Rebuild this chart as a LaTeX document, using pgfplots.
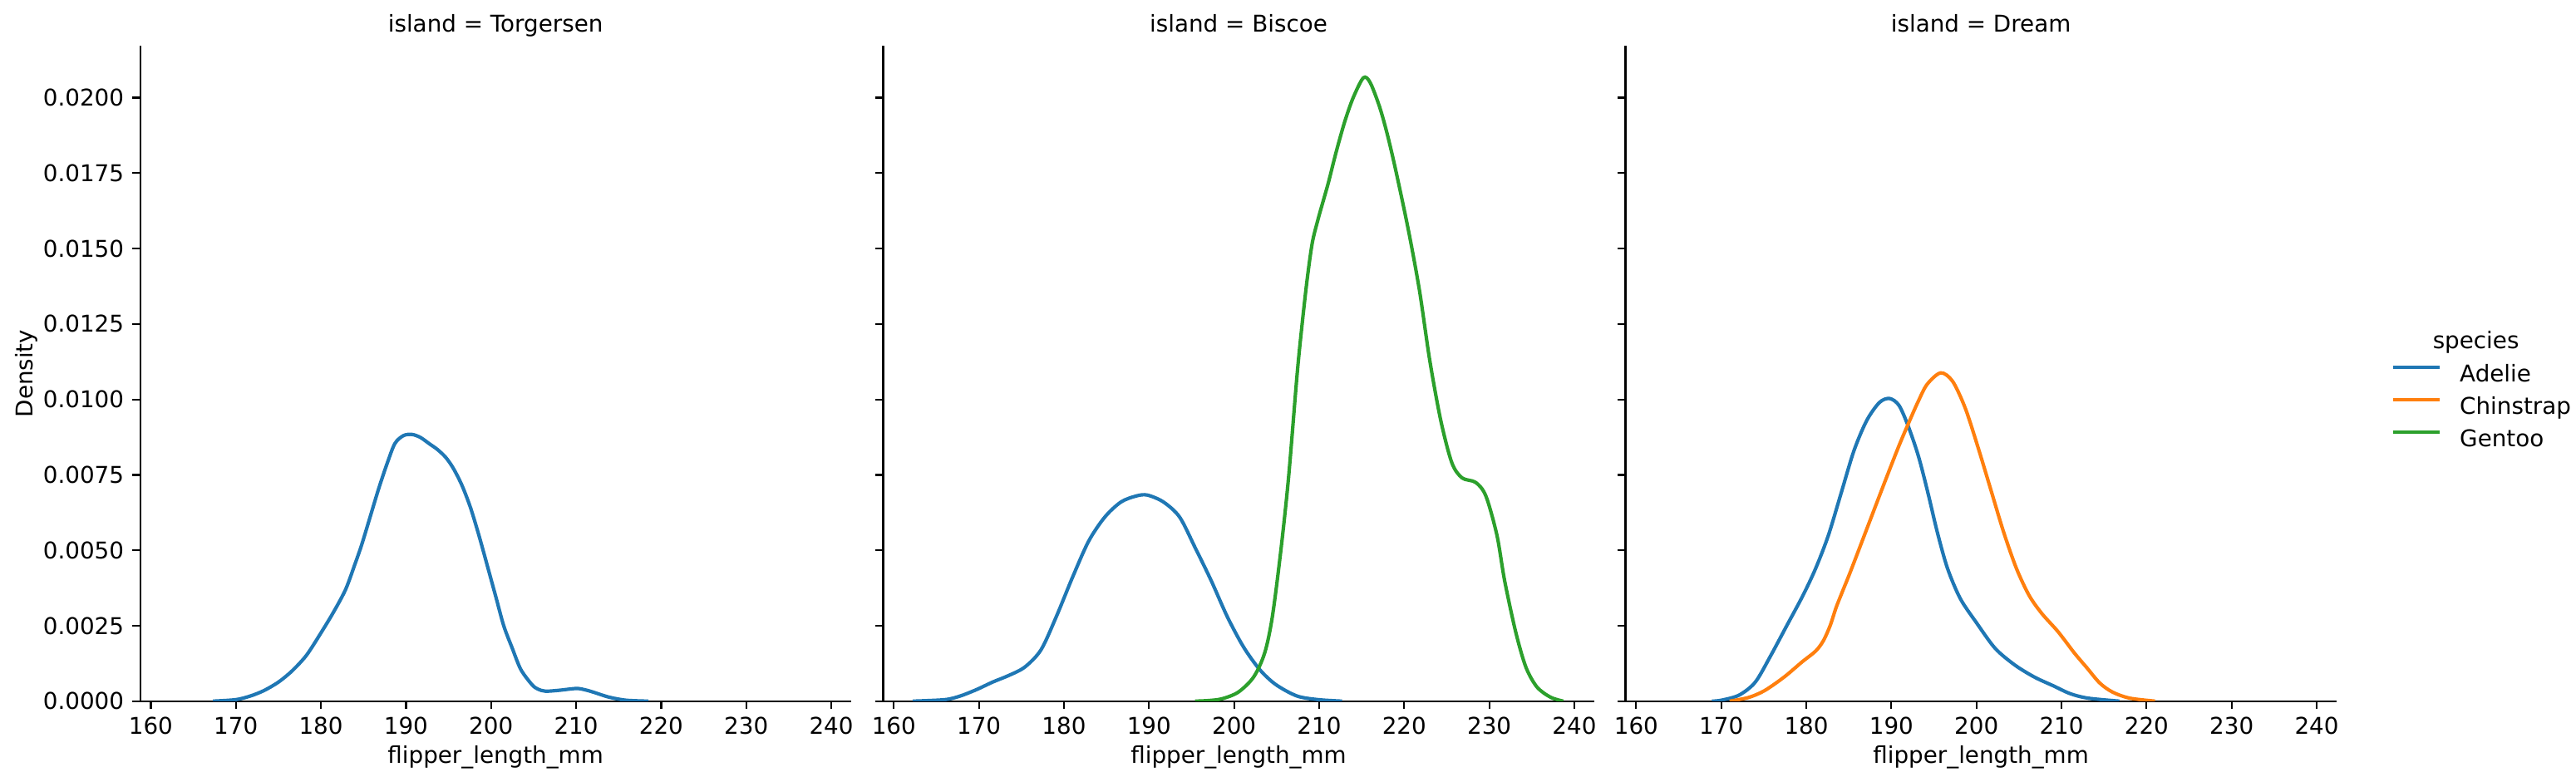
\documentclass[border=0pt]{standalone}
\usepackage{fontspec}
\setmainfont{DejaVu Sans}
\usepackage{pgfplots}
\usepackage{pgfplotstable}
\pgfplotsset{compat=1.18}

\definecolor{tabblue}{HTML}{1F77B4}
\definecolor{taborange}{HTML}{FF7F0E}
\definecolor{tabgreen}{HTML}{2CA02C}
\newcommand\tenbp{\fontsize{10bp}{12bp}\selectfont}

% KDE curves (flipper_length_mm, density)
\pgfplotstableread{
x y
167.3 0
170.0 0.00005
171.7 0.00017
173.3 0.00035
175.0 0.00063
176.6 0.00100
178.3 0.00152
180.0 0.00226
181.5 0.00296
182.9 0.00370
184.0 0.00454
184.8 0.00519
185.8 0.00612
186.8 0.00705
187.8 0.00789
188.7 0.00854
189.7 0.00880
190.7 0.00884
191.7 0.00874
192.7 0.00854
193.7 0.00834
194.7 0.00807
195.6 0.00770
196.6 0.00714
197.6 0.00640
198.6 0.00547
199.6 0.00445
200.6 0.00342
201.5 0.00249
202.5 0.00175
203.5 0.00105
204.8 0.00055
205.5 0.00040
206.4 0.00033
208.0 0.00036
210.0 0.00042
211.0 0.00038
212.0 0.00030
213.9 0.00013
215.9 0.00003
218.5 0
}\torgAdelie

\pgfplotstableread{
x y
162.2 0
166.0 0.00005
167.8 0.00017
169.7 0.00038
171.6 0.00063
173.5 0.00085
175.4 0.00113
177.3 0.00170
179.1 0.00280
181.0 0.00410
182.9 0.00530
184.8 0.00610
186.7 0.00660
188.5 0.00680
189.8 0.00683
191.7 0.00660
193.6 0.00610
195.4 0.00510
197.3 0.00400
199.2 0.00280
201.1 0.00180
203.0 0.00105
204.9 0.00055
207.4 0.00017
209.9 0.00005
212.7 0
}\bisAdelie

\pgfplotstableread{
x y
195.4 0
197.0 0.00002
198.6 0.00008
200.5 0.00030
202.3 0.00080
203.6 0.00160
204.5 0.00280
205.5 0.00500
206.4 0.00740
207.4 0.01080
208.0 0.01250
208.6 0.01400
209.2 0.01520
209.9 0.01600
210.5 0.01660
211.1 0.01720
212.0 0.01820
213.0 0.01920
214.0 0.02000
215.2 0.02066
216.0 0.02050
217.1 0.01970
218.0 0.01880
219.0 0.01760
220.5 0.01560
221.8 0.01360
223.0 0.01130
224.3 0.00930
225.6 0.00790
226.8 0.00740
228.4 0.00725
229.6 0.00680
230.9 0.00550
231.8 0.00400
233.1 0.00230
234.3 0.00113
235.6 0.00047
237.2 0.00013
238.7 0
}\bisGentoo

\pgfplotstableread{
x y
168.9 0
170.0 0.00003
172.1 0.00020
174.0 0.00063
175.8 0.00150
177.7 0.00250
179.6 0.00350
181.1 0.00440
182.6 0.00550
184.1 0.00690
185.6 0.00830
187.1 0.00930
188.6 0.00990
189.8 0.01003
190.9 0.00980
192.0 0.00910
193.2 0.00810
194.3 0.00690
195.4 0.00560
196.6 0.00440
198.1 0.00340
200.0 0.00260
202.2 0.00175
204.5 0.00120
206.8 0.00080
209.1 0.00050
211.0 0.00025
213.1 0.00010
216.8 0
}\dreAdelie

\pgfplotstableread{
x y
171.0 0
173.2 0.00012
175.1 0.00035
177.4 0.00080
179.5 0.00130
181.1 0.00166
182.0 0.00200
182.8 0.00250
183.5 0.00310
184.2 0.00360
185.2 0.00430
187.1 0.00570
189.0 0.00710
190.8 0.00840
192.0 0.00920
193.1 0.00990
194.2 0.01050
195.8 0.01088
197.2 0.01060
198.7 0.00970
200.2 0.00840
201.7 0.00700
203.2 0.00560
204.7 0.00440
206.2 0.00350
207.7 0.00290
209.6 0.00230
211.5 0.00160
213.0 0.00110
214.5 0.00060
216.0 0.00030
218.0 0.00010
221.0 0
}\dreChinstrap

\pgfplotsset{
  facet/.style={
    scale only axis, width=307.8bp, height=283.8bp,
    anchor=south west,
    xmin=158.75, xmax=242.3, ymin=0, ymax=0.021713,
    axis x line=bottom, axis y line=left,
    axis line style={-, line width=0.8bp, black},
    every tick/.style={black, line width=0.8bp},
    tick align=outside, major tick length=3.5bp,
    xtick={160,170,...,240},
    ytick={0,0.0025,0.005,0.0075,0.01,0.0125,0.015,0.0175,0.02},
    scaled y ticks=false,
    /pgf/number format/assume math mode=true,
    tick label style={font=\tenbp},
    xlabel={flipper\_length\_mm},
    xlabel style={font=\tenbp, at={(axis description cs:0.5,-0.0853)}, anchor=center},
    every axis title shift=0pt,
    title style={font=\tenbp, at={(axis description cs:0.5,1)}, anchor=base, yshift=6bp},
    every axis plot/.append style={line width=1.5bp, smooth, no markers},
  }
}

\begin{document}
\tenbp
\begin{tikzpicture}
\useasboundingbox (0,0) rectangle (1115.64bp,336.24bp);

\begin{axis}[facet, at={(60.7bp,32.5bp)},
  title={island = Torgersen},
  ylabel={Density},
  ylabel style={font=\tenbp, at={(axis description cs:-0.16,0.5)}, anchor=center, rotate=0},
  yticklabel style={/pgf/number format/fixed, /pgf/number format/fixed zerofill, /pgf/number format/precision=4}]
\addplot[tabblue] table[x=x, y=y] {\torgAdelie};
\end{axis}

\begin{axis}[facet, at={(382.5bp,32.5bp)},
  title={island = Biscoe}, yticklabels={}]
\addplot[tabblue] table[x=x, y=y] {\bisAdelie};
\addplot[tabgreen] table[x=x, y=y] {\bisGentoo};
\end{axis}

\begin{axis}[facet, at={(704.0bp,32.5bp)},
  title={island = Dream}, yticklabels={},
  legend cell align=left,
  legend image code/.code={\draw[#1] (0bp,3.5bp) -- (20.2bp,3.5bp);},
  legend style={at={(axis description cs:1.0767,0.4479)}, anchor=west,
    draw=none, fill=none, font=\tenbp, inner sep=0pt, row sep=4.6bp,
    nodes={inner sep=0pt, text height=7.5bp, text depth=2bp},
    /tikz/every odd column/.append style={column sep=8bp}}]
\addplot[tabblue, forget plot] table[x=x, y=y] {\dreAdelie};
\addplot[taborange, forget plot] table[x=x, y=y] {\dreChinstrap};
\addlegendimage{tabblue, line width=1.5bp}
\addlegendentry{Adelie}
\addlegendimage{taborange, line width=1.5bp}
\addlegendentry{Chinstrap}
\addlegendimage{tabgreen, line width=1.5bp}
\addlegendentry{Gentoo}
\end{axis}

\node[font=\tenbp, anchor=center] at (1072.3bp,188.0bp) {species};
\end{tikzpicture}
\end{document}
